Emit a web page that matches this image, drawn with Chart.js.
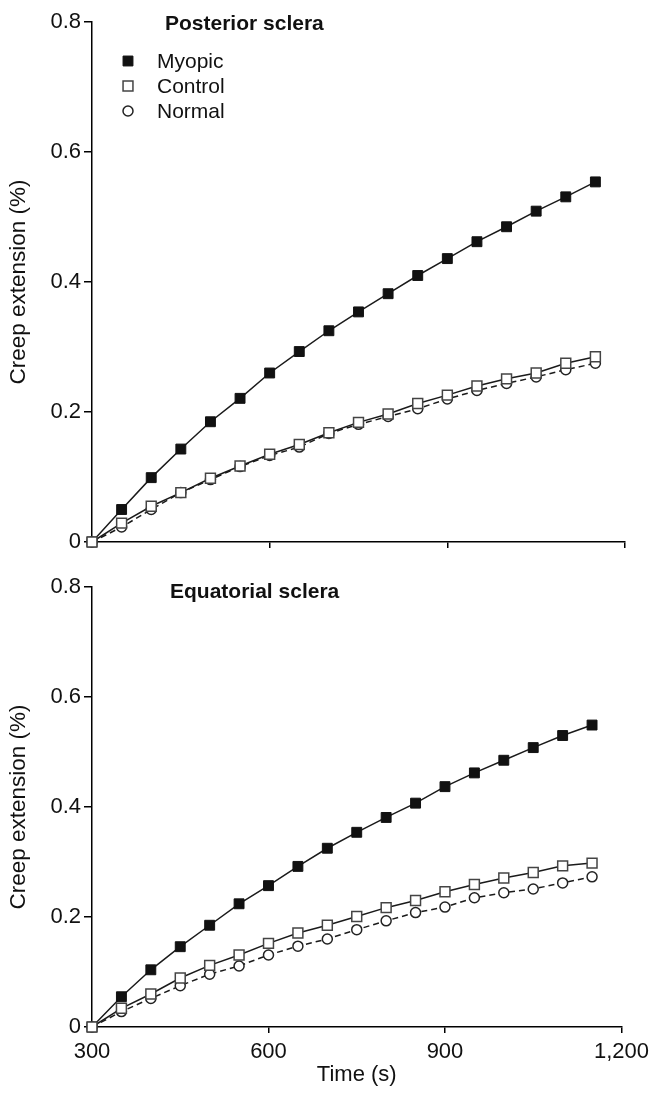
<!DOCTYPE html>
<html>
<head>
<title>Creep extension</title>
<style>
  body, html { margin: 0; padding: 0; background: #fff; }
  canvas { position: absolute; left: 0; }
  #posterior { top: 0; }
  #equatorial { top: 560px; }
</style>
</head>
<body>
<canvas id="posterior" width="655" height="560"></canvas>
<canvas id="equatorial" width="655" height="536"></canvas>

<script src="https://cdn.jsdelivr.net/npm/chart.js"></script>
<script>
// time points (s)
const times = [300, 350, 400, 450, 500, 550, 600, 650, 700, 750, 800, 850, 900, 950, 1000, 1050, 1100, 1150];

// posterior sclera, creep extension (%)
const postMyopic  = [0, 0.050, 0.099, 0.143, 0.185, 0.221, 0.260, 0.293, 0.325, 0.354, 0.382, 0.410, 0.436, 0.462, 0.485, 0.509, 0.531, 0.554];
const postControl = [0, 0.029, 0.055, 0.076, 0.098, 0.117, 0.135, 0.150, 0.168, 0.184, 0.197, 0.213, 0.226, 0.240, 0.251, 0.260, 0.275, 0.285];
const postNormal  = [0, 0.023, 0.050, 0.076, 0.096, 0.116, 0.133, 0.146, 0.167, 0.181, 0.193, 0.205, 0.220, 0.233, 0.244, 0.254, 0.265, 0.275];

// equatorial sclera
const eqMyopic  = [0, 0.055, 0.104, 0.146, 0.185, 0.224, 0.257, 0.292, 0.325, 0.354, 0.381, 0.407, 0.437, 0.462, 0.485, 0.508, 0.530, 0.549];
const eqControl = [0, 0.034, 0.060, 0.089, 0.112, 0.131, 0.152, 0.171, 0.185, 0.201, 0.217, 0.230, 0.246, 0.259, 0.271, 0.281, 0.293, 0.298];
const eqNormal  = [0, 0.028, 0.052, 0.075, 0.096, 0.111, 0.131, 0.147, 0.160, 0.177, 0.193, 0.208, 0.218, 0.235, 0.244, 0.251, 0.262, 0.273];

const seriesNames = ['Myopic', 'Control', 'Normal'];
const panelTitles = ['Posterior sclera', 'Equatorial sclera'];
const xTicks = [300, 600, 900, 1200];
const yTicks = [0, 0.2, 0.4, 0.6, 0.8];

const font = "'Liberation Sans', Arial, sans-serif";
const ink = '#111';

function pts(vals) {
    return times.map((t, i) => ({x: t, y: vals[i]}));
}

// control squares sit on top of everything, myopic at the bottom
function datasets(myopic, control, normal) {
    return [
        {label: seriesNames[0], data: pts(myopic), order: 2, borderColor: '#1a1a1a', borderWidth: 1.5,
         pointStyle: 'rect', pointRadius: 7, pointBackgroundColor: ink, pointBorderColor: ink, pointBorderWidth: 1},
        {label: seriesNames[1], data: pts(control), order: 0, borderColor: '#1a1a1a', borderWidth: 1.5,
         pointStyle: 'rect', pointRadius: 7, pointBackgroundColor: '#fff', pointBorderColor: '#444', pointBorderWidth: 1.5},
        {label: seriesNames[2], data: pts(normal), order: 1, borderColor: '#1a1a1a', borderWidth: 1.5, borderDash: [6, 4],
         pointStyle: 'circle', pointRadius: 5, pointBackgroundColor: '#fff', pointBorderColor: '#222', pointBorderWidth: 1.5}
    ];
}

// title + legend drawn inside the plot area
const panelText = {
    id: 'panelText',
    afterDraw(chart, args, opts) {
        const ctx = chart.ctx;
        ctx.save();
        ctx.fillStyle = ink;
        ctx.textBaseline = 'alphabetic';
        ctx.textAlign = 'left';
        ctx.font = 'bold 21px ' + font;
        ctx.fillText(opts.title, opts.titleX, opts.titleY);
        if (opts.legend) {
            ctx.font = '21px ' + font;
            chart.data.datasets.forEach((ds, i) => {
                const y = 61 + i * 25;
                ctx.fillStyle = ds.pointBackgroundColor;
                ctx.strokeStyle = ds.pointBorderColor;
                ctx.lineWidth = ds.pointBorderWidth;
                Chart.helpers.drawPoint(ctx, {pointStyle: ds.pointStyle, radius: ds.pointRadius, rotation: 0, borderWidth: ds.pointBorderWidth}, 128, y);
                ctx.fillStyle = ink;
                ctx.fillText(ds.label, 157, y + 7);
            });
        }
        ctx.restore();
    }
};

function makeChart(id, sets, title, titleX, titleY, legend, showX, padTop, xHeight) {
    return new Chart(document.getElementById(id), {
        type: 'line',
        data: {datasets: sets},
        plugins: [panelText],
        options: {
            responsive: false,
            animation: false,
            events: [],
            clip: false,
            layout: {padding: {top: padTop, right: 30, left: 0, bottom: 0}},
            elements: {line: {tension: 0}},
            plugins: {
                legend: {display: false},
                tooltip: {enabled: false},
                panelText: {title: title, titleX: titleX, titleY: titleY, legend: legend}
            },
            scales: {
                x: {
                    type: 'linear', min: 300, max: 1200,
                    afterFit: s => { s.height = xHeight; },
                    afterBuildTicks: s => { s.ticks = xTicks.map(v => ({value: v})); },
                    border: {color: '#000', width: 1.5},
                    grid: {drawOnChartArea: false, tickLength: 6, lineWidth: 1.5,
                           color: c => (c.tick && c.tick.value === 300) ? 'rgba(0,0,0,0)' : '#000'},
                    ticks: {display: showX, padding: 6, color: ink, maxRotation: 0, autoSkip: false,
                            font: {size: 22, family: font},
                            callback: v => v.toLocaleString('en-US')},
                    title: {display: showX, text: 'Time (s)', color: ink, padding: {top: 0, bottom: 8},
                            font: {size: 22, family: font}}
                },
                y: {
                    min: 0, max: 0.8,
                    afterFit: s => { s.width = 92; },
                    afterBuildTicks: s => { s.ticks = yTicks.map(v => ({value: v})); },
                    border: {color: '#000', width: 1.5},
                    grid: {drawOnChartArea: false, tickLength: 8, lineWidth: 1.5, color: '#000'},
                    ticks: {padding: 3, color: ink, font: {size: 22, family: font},
                            callback: v => v === 0 ? '0' : v.toFixed(1)},
                    title: {display: true, text: 'Creep extension (%)', color: ink, padding: {top: 5, bottom: 0},
                            font: {size: 22.5, family: font}}
                }
            }
        }
    });
}

makeChart('posterior', datasets(postMyopic, postControl, postNormal), panelTitles[0], 165, 30, true, false, 22, 18);
makeChart('equatorial', datasets(eqMyopic, eqControl, eqNormal), panelTitles[1], 170, 38, false, true, 27, 69);
</script>
</body>
</html>
